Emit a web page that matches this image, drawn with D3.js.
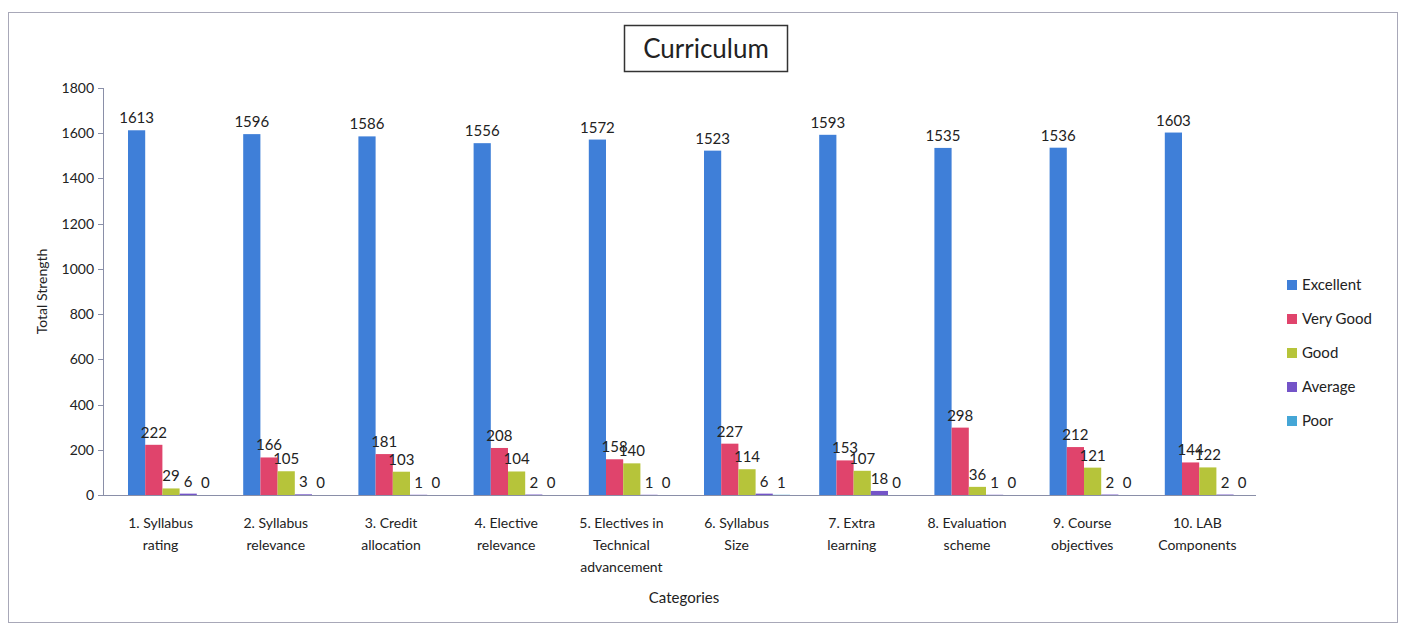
<!DOCTYPE html>
<meta charset="utf-8">
<style>
body { margin: 0; background: #fff; }
text { font-family: Lato, "Open Sans", sans-serif; fill: #222; }
.axis path, .axis line { stroke: #8a8fa8; shape-rendering: crispEdges; }
.axis text { font-size: 14px; }
.lbl { font-size: 15px; }
</style>
<body>
<div id="chart"></div>
</body>
<script src="https://d3js.org/d3.v7.min.js"></script>
<script>

var categories = [
  ["1. Syllabus", "rating"],
  ["2. Syllabus", "relevance"],
  ["3. Credit", "allocation"],
  ["4. Elective", "relevance"],
  ["5. Electives in", "Technical", "advancement"],
  ["6. Syllabus", "Size"],
  ["7. Extra", "learning"],
  ["8. Evaluation", "scheme"],
  ["9. Course", "objectives"],
  ["10. LAB", "Components"]
];
var seriesNames = ["Excellent", "Very Good", "Good", "Average", "Poor"];
var excellent = [1613, 1596, 1586, 1556, 1572, 1523, 1593, 1535, 1536, 1603];
var veryGood  = [222, 166, 181, 208, 158, 227, 153, 298, 212, 144];
var good      = [29, 105, 103, 104, 140, 114, 107, 36, 121, 122];
var average   = [6, 3, 1, 2, 1, 6, 18, 1, 2, 2];
var poor      = [0, 0, 0, 0, 0, 1, 0, 0, 0, 0];
var yTicks = [0, 200, 400, 600, 800, 1000, 1200, 1400, 1600, 1800];

var seriesValues = [excellent, veryGood, good, average, poor];
var colors = d3.scaleOrdinal().domain(seriesNames)
    .range(["#3f7fd8", "#e0446c", "#b6c43a", "#7454c8", "#45a6d6"]);

var margin = {top: 88, left: 103},
    width = 1152,
    height = 407;

var svg = d3.select("#chart").append("svg")
    .attr("width", 1411)
    .attr("height", 625);

// outer frame
svg.append("rect")
    .attr("x", 8.5).attr("y", 12.5)
    .attr("width", 1389).attr("height", 610)
    .attr("fill", "none")
    .attr("stroke", "#a8a8b8");

var g = svg.append("g")
    .attr("transform", "translate(" + margin.left + "," + margin.top + ")");

var x0 = d3.scaleBand().domain(d3.range(categories.length)).range([0, width]);
var x1 = d3.scaleBand().domain(seriesNames).range([25, 111]);
var y = d3.scaleLinear().domain([0, 1800]).range([height, 0]);

// y axis
g.append("g")
    .attr("class", "axis")
    .call(d3.axisLeft(y).tickValues(yTicks).tickFormat(d3.format("d")).tickSize(5).tickPadding(4));

// bars
var groups = g.selectAll(".cat")
    .data(categories.map(function(c, i) { return i; }))
  .enter().append("g")
    .attr("class", "cat")
    .attr("transform", function(i) { return "translate(" + x0(i) + ",0)"; });

groups.selectAll("rect")
    .data(function(i) { return seriesNames.map(function(s, k) { return {s: s, v: seriesValues[k][i]}; }); })
  .enter().append("rect")
    .attr("x", function(d) { return x1(d.s); })
    .attr("width", x1.bandwidth())
    .attr("y", function(d) { return y(d.v); })
    .attr("height", function(d) { return height - y(d.v); })
    .attr("fill", function(d) { return colors(d.s); });

groups.selectAll("text.lbl")
    .data(function(i) { return seriesNames.map(function(s, k) { return {s: s, v: seriesValues[k][i]}; }); })
  .enter().append("text")
    .attr("class", "lbl")
    .attr("text-anchor", "middle")
    .attr("x", function(d) { return x1(d.s) + x1.bandwidth() / 2; })
    .attr("y", function(d) { return y(d.v) - 7; })
    .text(function(d) { return d.v; });

// x axis
var xAxis = g.append("g")
    .attr("class", "axis")
    .attr("transform", "translate(0," + height + ")")
    .call(d3.axisBottom(x0).tickSize(0).tickFormat(""));

xAxis.selectAll(".tick").each(function(i) {
  var t = d3.select(this).append("text")
      .attr("text-anchor", "middle")
      .attr("y", 33)
      .style("fill", "#222");
  categories[i].forEach(function(line, k) {
    t.append("tspan").attr("x", 0).attr("dy", k === 0 ? 0 : 22).text(line);
  });
});

// axis titles
svg.append("text")
    .attr("transform", "translate(47," + (margin.top + height / 2) + ") rotate(-90)")
    .attr("text-anchor", "middle")
    .style("font-size", "14px")
    .text("Total Strength");

svg.append("text")
    .attr("x", 684).attr("y", 603)
    .attr("text-anchor", "middle")
    .style("font-size", "15px")
    .text("Categories");

// title
svg.append("rect")
    .attr("x", 624.5).attr("y", 25.5)
    .attr("width", 163).attr("height", 46)
    .attr("fill", "none")
    .attr("stroke", "#333")
    .attr("stroke-width", 1.5);

svg.append("text")
    .attr("x", 706).attr("y", 58)
    .attr("text-anchor", "middle")
    .style("font-size", "26px")
    .text("Curriculum");

// legend
var legend = svg.append("g")
    .attr("transform", "translate(1287,285)")
  .selectAll("g")
    .data(seriesNames)
  .enter().append("g")
    .attr("transform", function(d, i) { return "translate(0," + i * 34 + ")"; });

legend.append("rect")
    .attr("y", -5)
    .attr("width", 10).attr("height", 10)
    .attr("fill", function(d) { return colors(d); });

legend.append("text")
    .attr("x", 15)
    .attr("dy", "0.35em")
    .style("font-size", "15px")
    .text(function(d) { return d; });

</script>
